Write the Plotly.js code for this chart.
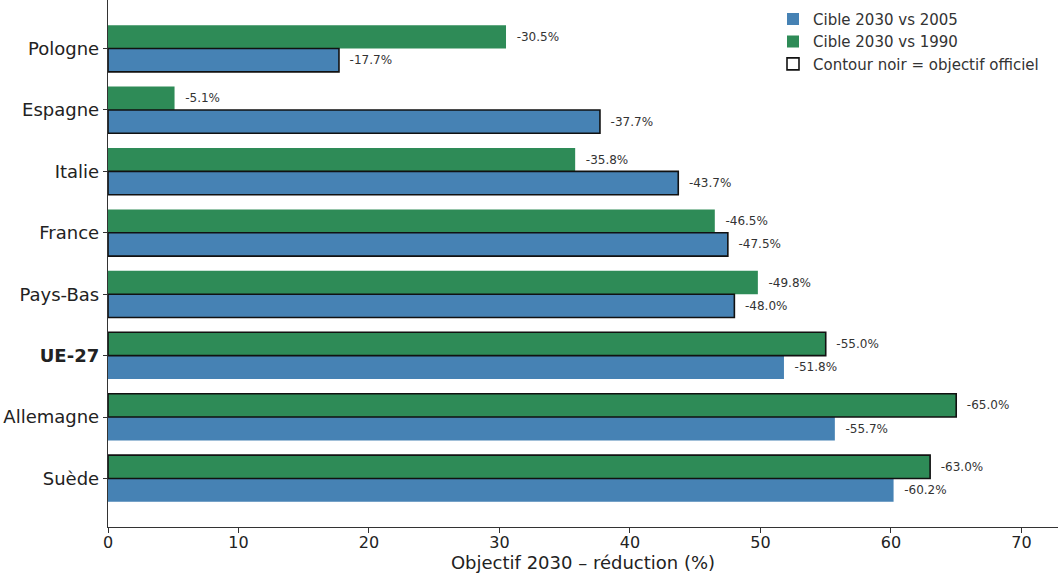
<!DOCTYPE html>
<html>
<head>
<meta charset="utf-8">
<script src="https://cdn.plot.ly/plotly-3.0.1.min.js"></script>
<style>html,body{margin:0;padding:0;background:#fff;}#chart{width:1064px;height:582px;}</style>
</head>
<body>
<div id="chart"></div>
<script>
const countries = ['Pologne','Espagne','Italie','France','Pays-Bas','UE-27','Allemagne','Suède'];
const target2005 = [17.7, 37.7, 43.7, 47.5, 48.0, 51.8, 55.7, 60.2];
const target1990 = [30.5, 5.1, 35.8, 46.5, 49.8, 55.0, 65.0, 63.0];
const officialBase = ['2005','2005','2005','2005','2005','1990','1990','1990'];
const tickLabels = ['Pologne','Espagne','Italie','France','Pays-Bas','<b>UE-27</b>','Allemagne','Suède'];

const BW = 0.38;
const fmt = v => '\u00a0\u00a0-' + v.toFixed(1) + '%';
const labelFont = {family: 'DejaVu Sans', size: 12, color: '#333'};

const green = {
  type: 'bar', orientation: 'h', name: 'Cible 2030 vs 1990',
  y: countries, x: target1990, width: BW, offset: -BW,
  marker: {color: '#2E8B57', line: {width: 0}},
  text: target1990.map(fmt), textposition: 'outside', textfont: labelFont,
  constraintext: 'none', cliponaxis: false, legendrank: 2, hoverinfo: 'x+y'
};
const blue = {
  type: 'bar', orientation: 'h', name: 'Cible 2030 vs 2005',
  y: countries, x: target2005, width: BW, offset: 0,
  marker: {color: '#4682B4', line: {width: 0}},
  text: target2005.map(fmt), textposition: 'outside', textfont: labelFont,
  constraintext: 'none', cliponaxis: false, legendrank: 1, hoverinfo: 'x+y'
};
const officialVals = officialBase.map((b, i) => b === '2005' ? target2005[i] : target1990[i]);
const officialOffsets = officialBase.map(b => b === '2005' ? 0 : -BW);
const outline = {
  type: 'bar', orientation: 'h', name: 'Contour noir = objectif officiel',
  y: countries, x: officialVals, width: BW, offset: officialOffsets,
  marker: {color: 'rgba(255,255,255,0)', line: {color: '#111', width: 1.6}},
  cliponaxis: false, legendrank: 3, hoverinfo: 'skip'
};

const layout = {
  width: 1064, height: 582,
  margin: {l: 108, r: 6, t: 0, b: 55},
  paper_bgcolor: '#fff', plot_bgcolor: '#fff',
  barmode: 'overlay',
  font: {family: 'DejaVu Sans', color: '#222'},
  showlegend: true,
  legend: {
    x: 0.7, y: 0.995, xanchor: 'left', yanchor: 'top',
    bgcolor: 'rgba(255,255,255,0)', font: {family: 'DejaVu Sans', size: 15, color: '#333'},
    traceorder: 'normal'
  },
  xaxis: {
    range: [0, 72.8], showgrid: false, zeroline: false,
    showline: true, linecolor: '#333', linewidth: 1.2,
    ticks: 'outside', ticklen: 5, tickcolor: '#333', tickwidth: 1,
    tickvals: [0,10,20,30,40,50,60,70],
    ticklabelstandoff: -4,
    tickfont: {family: 'DejaVu Sans', size: 16, color: '#222'},
    title: {text: 'Objectif 2030 – réduction (%)', font: {family: 'DejaVu Sans', size: 18, color: '#222'}, standoff: 4}
  },
  yaxis: {
    type: 'category', range: [7.79, -0.79],
    categoryorder: 'array', categoryarray: countries,
    tickvals: countries, ticktext: tickLabels,
    showgrid: false, zeroline: false,
    showline: true, linecolor: '#333', linewidth: 1.2,
    ticks: 'outside', ticklen: 4, tickcolor: '#333',
    tickfont: {family: 'DejaVu Sans', size: 18, color: '#222'}
  }
};

Plotly.newPlot('chart', [green, blue, outline], layout, {displayModeBar: false, staticPlot: true});
</script>
</body>
</html>
